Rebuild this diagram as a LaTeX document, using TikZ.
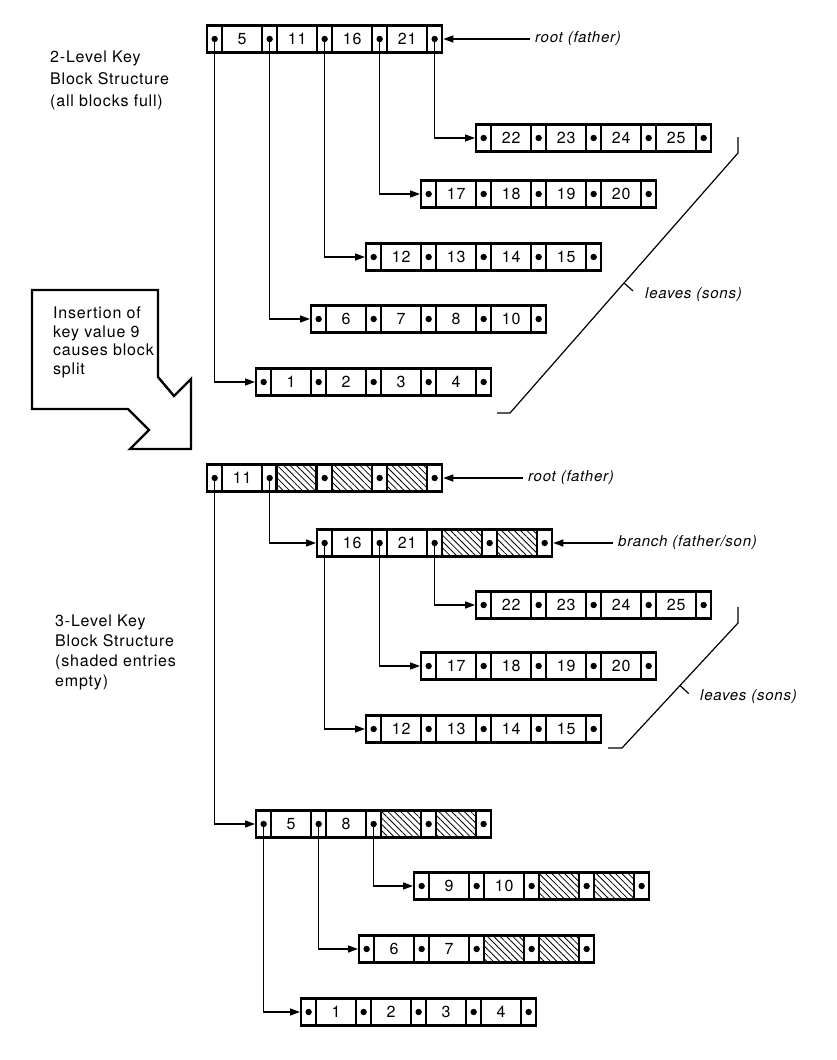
\documentclass[tikz,border=0pt]{standalone}
\usepackage{fontspec}
\setmainfont{TeX Gyre Heros}[LetterSpace=5]
\usetikzlibrary{arrows.meta,patterns.meta,calc}

\tikzset{
  zelle/.style={draw, line width=2.3pt, inner sep=0pt, minimum height=27pt, anchor=west},
  zeiger/.style={zelle, minimum width=15pt},
  schluessel/.style={zelle, minimum width=40pt, font=\fontsize{16}{18}\selectfont},
  leer/.style={schluessel, pattern={Lines[angle=-45,distance=4.5pt,line width=0.8pt]}},
  verweis/.style={line width=1.4pt, -{Triangle[length=10pt,width=7pt]}},
  schrift/.style={align=left, anchor=north west, inner sep=0pt},
  kursiv/.style={font=\fontsize{15}{18}\selectfont\itshape, inner sep=0pt, anchor=west},
  klammer/.style={line width=1.2pt},
}

\newcommand*{\leereintrag}{-}
% Block: Name, linke Kante, Mitte y, Eintraege
\newcommand{\schluesselblock}[4]{%
  \foreach \k [count=\i from 0] in {#4} {
    \node[zeiger] (#1-p\i) at ({#2+55*\i},#3) {};
    \fill (#1-p\i.center) circle (3.2pt);
    \ifx\k\leereintrag
      \node[leer] (#1-k\i) at ({#2+55*\i+15},#3) {};
    \else
      \node[schluessel] (#1-k\i) at ({#2+55*\i+15},#3) {\k};
    \fi
  }
  \node[zeiger] (#1-p4) at ({#2+220},#3) {};
  \fill (#1-p4.center) circle (3.2pt);
}

\begin{document}
\begin{tikzpicture}[x=1pt, y=-1pt]
  \useasboundingbox (0,0) rectangle (836,1060);

  % Beschriftungen
  \node[schrift, font=\fontsize{16}{22}\selectfont] (titelA) at (50,51)
    {2-Level Key\\Block Structure\\(all blocks full)};
  \node[schrift, font=\fontsize{16}{20}\selectfont] (titelB) at (55,615)
    {3-Level Key\\Block Structure\\(shaded entries\\empty)};

  % Pfeil Einfuegung
  \draw[line width=2.4pt, line join=miter] (32,290) -- (158,290) -- (158,377) -- (174,396)
    -- (191,379) -- (191,449) -- (130,449) -- (149,430) -- (128,409) -- (32,409) -- cycle;
  \node[schrift, font=\fontsize{16}{18.5}\selectfont] (einfuegen) at (53,307)
    {Insertion of\\key value 9\\causes block\\split};

  % zweistufig
  \schluesselblock{wurzelA}{206}{39}{5,11,16,21}
  \schluesselblock{blattA}{475}{138}{22,23,24,25}
  \schluesselblock{blattB}{420}{194}{17,18,19,20}
  \schluesselblock{blattC}{365}{257}{12,13,14,15}
  \schluesselblock{blattD}{310}{319}{6,7,8,10}
  \schluesselblock{blattE}{255}{382}{1,2,3,4}

  \draw[verweis] (wurzelA-p0.center) |- (blattE-p0.west);
  \draw[verweis] (wurzelA-p1.center) |- (blattD-p0.west);
  \draw[verweis] (wurzelA-p2.center) |- (blattC-p0.west);
  \draw[verweis] (wurzelA-p3.center) |- (blattB-p0.west);
  \draw[verweis] (wurzelA-p4.center) |- (blattA-p0.west);

  \node[kursiv] (vaterA) at (535,39) {root (father)};
  \draw[verweis] ([xshift=-5pt]vaterA.west) -- (wurzelA-p4.east);

  % Klammer Blaetter
  \draw[klammer] (738,137) -- (738,153) -- (510,413) coordinate[pos=0.5] (mitteA) -- (497,413);
  \draw[klammer] (mitteA) -- ($(mitteA)!12pt!90:(510,413)$);
  \node[kursiv] (soehneA) at (645,295) {leaves (sons)};

  % dreistufig
  \schluesselblock{wurzelB}{206}{478}{11,-,-,-}
  \schluesselblock{ast}{316}{543}{16,21,-,-}
  \schluesselblock{blattF}{475}{605}{22,23,24,25}
  \schluesselblock{blattG}{420}{666}{17,18,19,20}
  \schluesselblock{blattH}{365}{729}{12,13,14,15}
  \schluesselblock{mitte}{255}{824}{5,8,-,-}
  \schluesselblock{blattI}{413}{886}{9,10,-,-}
  \schluesselblock{blattJ}{358}{949}{6,7,-,-}
  \schluesselblock{blattK}{300}{1012}{1,2,3,4}

  \draw[verweis] (wurzelB-p0.center) |- (mitte-p0.west);
  \draw[verweis] (wurzelB-p1.center) |- (ast-p0.west);
  \draw[verweis] (ast-p0.center) |- (blattH-p0.west);
  \draw[verweis] (ast-p1.center) |- (blattG-p0.west);
  \draw[verweis] (ast-p2.center) |- (blattF-p0.west);
  \draw[verweis] (mitte-p0.center) |- (blattK-p0.west);
  \draw[verweis] (mitte-p1.center) |- (blattJ-p0.west);
  \draw[verweis] (mitte-p2.center) |- (blattI-p0.west);

  \node[kursiv] (vaterB) at (528,478) {root (father)};
  \draw[verweis] ([xshift=-5pt]vaterB.west) -- (wurzelB-p4.east);
  \node[kursiv] (vaterC) at (618,543) {branch (father/son)};
  \draw[verweis] ([xshift=-5pt]vaterC.west) -- (ast-p4.east);

  \draw[klammer] (738,607) -- (738,623) -- (622,748) coordinate[pos=0.5] (mitteB) -- (608,748);
  \draw[klammer] (mitteB) -- ($(mitteB)!12pt!90:(622,748)$);
  \node[kursiv] (soehneB) at (700,697) {leaves (sons)};
\end{tikzpicture}
\end{document}
